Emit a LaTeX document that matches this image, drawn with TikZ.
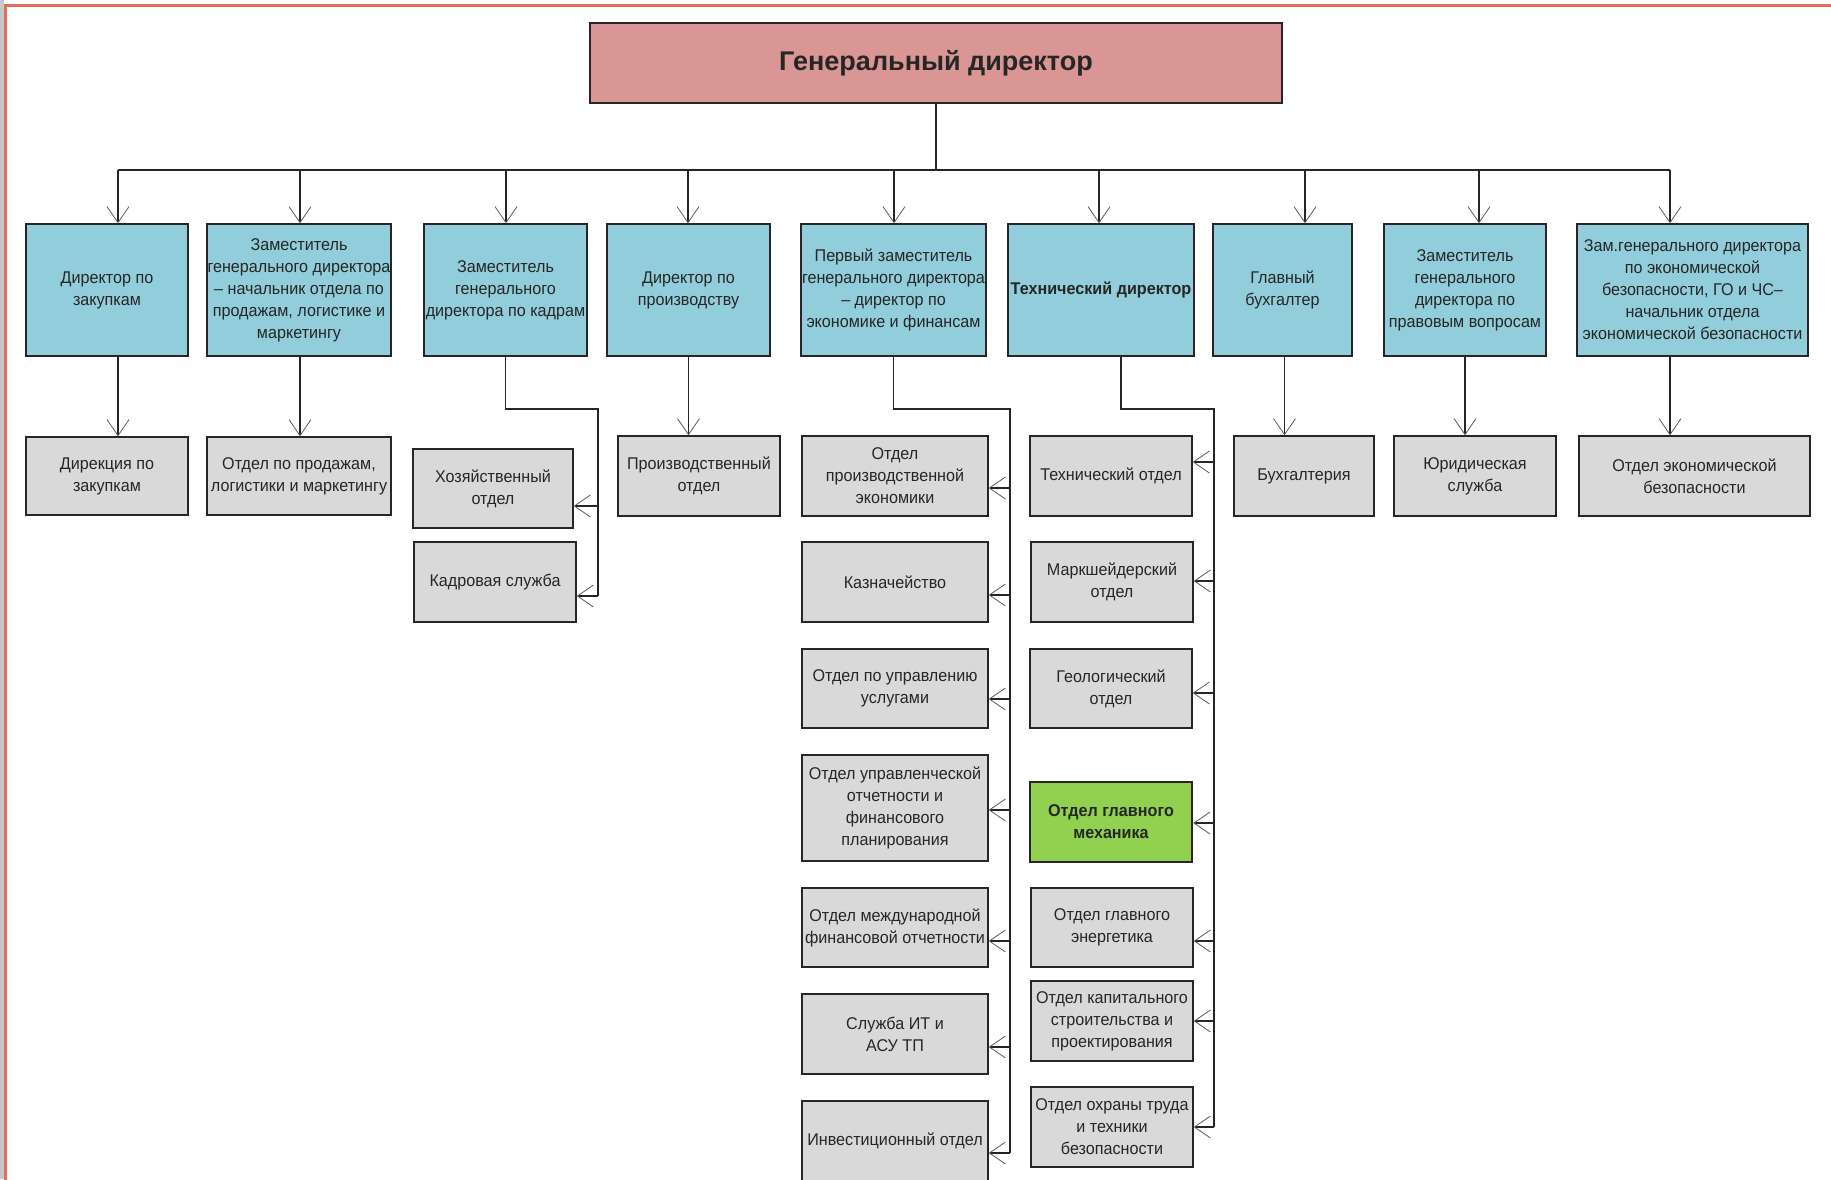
\documentclass[tikz,border=0pt]{standalone}
\usepackage{fontspec}
\setmainfont{Liberation Sans}[FakeStretch=0.95]
\newfontfamily\titlefont{Liberation Sans}
\usetikzlibrary{arrows.meta}

\definecolor{headblue}{RGB}{146,205,220}
\definecolor{deptgray}{RGB}{217,217,217}
\definecolor{chiefred}{RGB}{217,150,148}
\definecolor{mechgreen}{RGB}{146,208,80}
\definecolor{framered}{RGB}{224,112,88}
\definecolor{ink}{RGB}{38,38,38}

\begin{document}
\begin{tikzpicture}[x=1pt,y=-1pt,
  box/.style={draw=ink, line width=1.4pt, align=center, inner sep=0pt,
    text=ink, font=\fontsize{17}{22}\selectfont},
  chief/.style={box, fill=chiefred, font=\titlefont\bfseries\fontsize{27}{32}\selectfont},
  head/.style={box, fill=headblue, minimum height=132pt},
  dept/.style={box, fill=deptgray},
  mech/.style={box, fill=mechgreen, line width=2.6pt},
  wire/.style={draw=ink, line width=1.2pt},
  arr/.style={wire, -{Straight Barb[length=16pt,width=22pt,line width=0.8pt,color=black!65]}}
]
\useasboundingbox (0,0) rectangle (1831,1179);
\clip (0,0) rectangle (1831,1179);

% frame of the sheet
\fill[black!22] (0,0) rectangle (4,1179);
\draw[framered, line width=2.6pt] (5.5,1185) -- (5.5,5.5) -- (1835,5.5);

% general director
\node[chief, minimum width=692pt, minimum height=80pt] (gd) at (936,63) {Генеральный директор};

% first level
\node[head, minimum width=162pt] (h1) at (107,290) {Директор по\\закупкам};
\node[head, minimum width=184pt] (h2) at (299,290) {Заместитель\\генерального директора\\– начальник отдела по\\продажам, логистике и\\маркетингу};
\node[head, minimum width=163pt] (h3) at (505.5,290) {Заместитель\\генерального\\директора по кадрам};
\node[head, minimum width=163pt] (h4) at (688.5,290) {Директор по\\производству};
\node[head, minimum width=185pt] (h5) at (893.5,290) {Первый заместитель\\генерального директора\\– директор по\\экономике и финансам};
\node[head, minimum width=186pt] (h6) at (1101,290) {\bfseries Технический директор};
\node[head, minimum width=139pt] (h7) at (1282.5,290) {Главный\\бухгалтер};
\node[head, minimum width=162pt] (h8) at (1465,290) {Заместитель\\генерального\\директора по\\правовым вопросам};
\node[head, minimum width=231pt] (h9) at (1692.5,290) {Зам.генерального директора\\по экономической\\безопасности, ГО и ЧС–\\начальник отдела\\экономической безопасности};

% departments, second row
\node[dept, minimum width=162pt, minimum height=78pt] (d1) at (107,476) {Дирекция по\\закупкам};
\node[dept, minimum width=184pt, minimum height=78pt] (d2) at (299,476) {Отдел по продажам,\\логистики и маркетингу};
\node[dept, minimum width=160pt, minimum height=79pt] (hoz) at (493,488.5) {Хозяйственный\\отдел};
\node[dept, minimum width=162pt, minimum height=80pt] (kadr) at (495,582) {Кадровая служба};
\node[dept, minimum width=162pt, minimum height=80pt] (prod) at (699,476) {Производственный\\отдел};
\node[dept, minimum width=140pt, minimum height=80pt] (buh) at (1304,476) {Бухгалтерия};
\node[dept, minimum width=162pt, minimum height=80pt] (jur) at (1475,476) {Юридическая\\служба};
\node[dept, minimum width=231pt, minimum height=80pt] (ebez) at (1694.5,476) {Отдел экономической\\безопасности};

% economics and finance departments
\node[dept, minimum width=186pt, minimum height=80pt] (e1) at (895,476) {Отдел\\производственной\\экономики};
\node[dept, minimum width=186pt, minimum height=80pt] (e2) at (895,582) {Казначейство};
\node[dept, minimum width=186pt, minimum height=79pt] (e3) at (895,688.5) {Отдел по управлению\\услугами};
\node[dept, minimum width=186pt, minimum height=106pt] (e4) at (895,808) {Отдел управленческой\\отчетности и\\финансового\\планирования};
\node[dept, minimum width=186pt, minimum height=79pt] (e5) at (895,927.5) {Отдел международной\\финансовой отчетности};
\node[dept, minimum width=186pt, minimum height=80pt] (e6) at (895,1034) {Служба ИТ и\\АСУ ТП};
\node[dept, minimum width=186pt, minimum height=80pt] (e7) at (895,1141) {Инвестиционный отдел};

% technical departments
\node[dept, minimum width=162pt, minimum height=80pt] (t1) at (1111,476) {Технический отдел};
\node[dept, minimum width=162pt, minimum height=80pt] (t2) at (1112,582) {Маркшейдерский\\отдел};
\node[dept, minimum width=162pt, minimum height=79pt] (t3) at (1111,688.5) {Геологический\\отдел};
\node[mech, minimum width=162pt, minimum height=80pt] (t4) at (1111,822) {\bfseries Отдел главного\\\bfseries механика};
\node[dept, minimum width=162pt, minimum height=79pt] (t5) at (1112,927.5) {Отдел главного\\энергетика};
\node[dept, minimum width=162pt, minimum height=80pt] (t6) at (1112,1021) {Отдел капитального\\строительства и\\проектирования};
\node[dept, minimum width=162pt, minimum height=80pt] (t7) at (1112,1127) {Отдел охраны труда\\и техники\\безопасности};

% main bus
\coordinate (j1) at (118,170);
\coordinate (j2) at (300,170);
\coordinate (j3) at (506,170);
\coordinate (j4) at (688,170);
\coordinate (j5) at (894,170);
\coordinate (j6) at (1099,170);
\coordinate (j7) at (1305,170);
\coordinate (j8) at (1479,170);
\coordinate (j9) at (1670,170);
\draw[wire] (gd.south) -- (gd.south |- j1);
\draw[wire] (j1) -- (j9);
\foreach \i in {1,...,9} {
  \draw[arr] (j\i) -- (j\i |- h\i.north);
}

% straight subordinations
\draw[arr] (h1.south -| j1) -- (d1.north -| j1);
\draw[arr] (h2.south -| j2) -- (d2.north -| j2);
\draw[arr] (h4.south) -- (h4.south |- prod.north);
\draw[arr] ([xshift=2pt]h7.south) -- ([xshift=2pt]h7.south |- buh.north);
\draw[arr] (h8.south) -- (h8.south |- jur.north);
\draw[arr] (h9.south -| j9) -- (ebez.north -| j9);

% personnel branch
\coordinate (hrtop) at (598,409);
\coordinate (hra) at (598,506);
\coordinate (hrb) at (598,596);
\draw[wire] (h3.south) |- (hrtop) -- (hrb);
\draw[arr] (hra) -- (hra -| hoz.east);
\draw[arr] (hrb) -- (hrb -| kadr.east);

% economics branch
\coordinate (ectop) at (1010,409);
\coordinate (ec1) at (1010,488);
\coordinate (ec2) at (1010,595);
\coordinate (ec3) at (1010,699);
\coordinate (ec4) at (1010,810);
\coordinate (ec5) at (1010,941);
\coordinate (ec6) at (1010,1047);
\coordinate (ec7) at (1010,1153);
\draw[wire] (h5.south) |- (ectop) -- (ec7);
\foreach \i in {1,...,7} {
  \draw[arr] (ec\i) -- (ec\i -| e\i.east);
}

% technical branch
\coordinate (tctop) at (1214,409);
\coordinate (tc1) at (1214,462);
\coordinate (tc2) at (1214,581);
\coordinate (tc3) at (1214,693);
\coordinate (tc4) at (1214,823);
\coordinate (tc5) at (1214,941);
\coordinate (tc6) at (1214,1021);
\coordinate (tc7) at (1214,1127);
\draw[wire] ([xshift=20pt]h6.south) |- (tctop) -- (tc7);
\foreach \i in {1,...,7} {
  \draw[arr] (tc\i) -- (tc\i -| t\i.east);
}
\end{tikzpicture}
\end{document}
